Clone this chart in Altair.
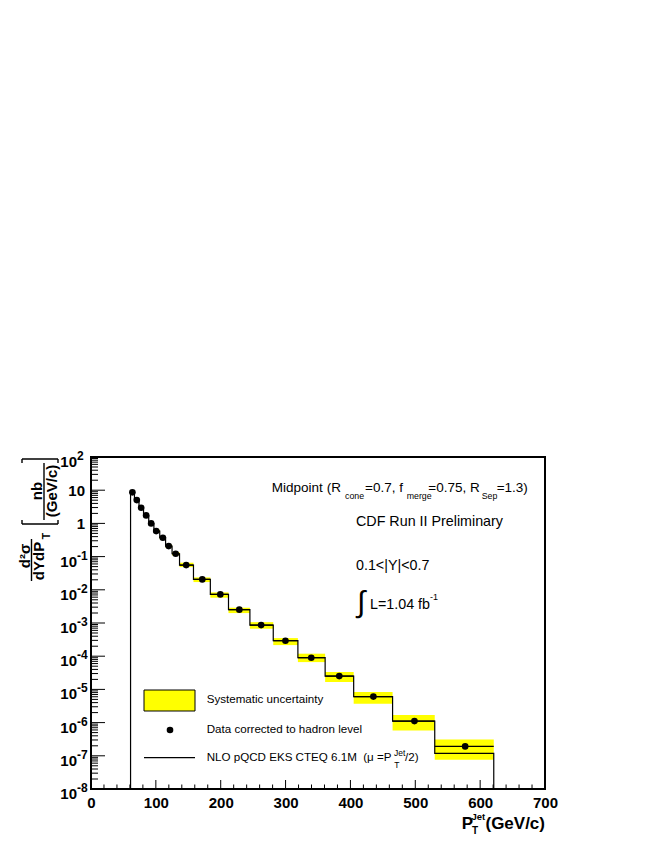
import altair as alt
import pandas as pd

# ---------------- data ----------------
bin_edges = [61, 67, 74, 81, 89, 97, 106, 115, 125, 136.5, 158, 184, 212, 245,
             281, 319, 361, 405, 465, 530, 621]
pt_x = [63.8, 70.6, 77.3, 85.0, 92.7, 100.5, 110.8, 119.8, 130.6, 146.8, 171.6,
        199.4, 228.7, 262.3, 299.8, 339.6, 382.8, 435.4, 498.7, 576.9]
data_xs = [8.6, 5.03, 2.97, 1.74, 1.0, 0.586, 0.371, 0.207, 0.122, 0.0555, 0.0206,
           0.00727, 0.00252, 8.65e-4, 2.93e-4, 9.0e-5, 2.52e-5, 6.07e-6, 1.11e-6, 1.92e-7]
theory_xs = [8.6, 5.03, 2.97, 1.74, 1.0, 0.586, 0.371, 0.207, 0.122, 0.0555, 0.0206,
             0.00727, 0.00252, 8.65e-4, 2.93e-4, 9.0e-5, 2.52e-5, 6.07e-6, 1.11e-6, 1.18e-7]
syst_lo = [7.8, 4.55, 2.68, 1.57, 0.9, 0.528, 0.334, 0.186, 0.109, 0.0483, 0.0171,
           0.00578, 0.00199, 6.73e-4, 2.16e-4, 6.64e-5, 1.66e-5, 3.71e-6, 5.82e-7, 7.63e-8]
syst_hi = [9.4, 5.5, 3.26, 1.91, 1.1, 0.645, 0.41, 0.229, 0.136, 0.0655, 0.0236,
           0.00835, 0.00289, 1.06e-3, 3.51e-4, 1.19e-4, 3.32e-5, 8.3e-6, 1.68e-6, 3.12e-7]
x_ticks_major = [0, 100, 200, 300, 400, 500, 600, 700]
x_ticks_minor = [v for v in range(0, 701, 20) if v % 100 != 0]
y_decades = [2, 1, 0, -1, -2, -3, -4, -5, -6, -7, -8]

# ---------------- tables ----------------
bins = pd.DataFrame({
    "lo": bin_edges[:-1], "hi": bin_edges[1:], "x": pt_x,
    "data": data_xs, "theory": theory_xs, "slo": syst_lo, "shi": syst_hi,
})
path_x = [bin_edges[0]]
path_y = [1e-8]
for lo, hi, t in zip(bin_edges[:-1], bin_edges[1:], theory_xs):
    path_x += [lo, hi]
    path_y += [t, t]
path_x.append(bin_edges[-1])
path_y.append(1e-8)
path = pd.DataFrame({"x": path_x, "y": path_y, "o": range(len(path_x))})

ylab = pd.DataFrame({"v": [10.0 ** k for k in y_decades], "k": y_decades})
ylab["base"] = ["1" if k == 0 else "10" for k in y_decades]
ylab["exp"] = ["" if k in (0, 1) else str(k) for k in y_decades]
ylab_exp = ylab[ylab["exp"] != ""]
ylab_plain = ylab[ylab["exp"] == ""]

yminor = pd.DataFrame({"v": [m * 10.0 ** k for k in range(-8, 2) for m in range(2, 10)]})
ymajor = pd.DataFrame({"v": [10.0 ** k for k in y_decades]})
xmaj = pd.DataFrame({"v": x_ticks_major})
xmin = pd.DataFrame({"v": x_ticks_minor})

W, H = 454, 332
FONT = "Liberation Sans"
xs = alt.Scale(domain=[0, 700], nice=False, zero=False)
ys = alt.Scale(type="log", domain=[1e-8, 100], nice=False)
dummy = pd.DataFrame({"a": [0]})


def txt(s, x, y, size, weight="normal", align="left", angle=0):
    return alt.Chart(dummy).mark_text(
        text=s, fontSize=size, fontWeight=weight, align=align, baseline="middle",
        angle=angle, font=FONT, color="black"
    ).encode(x=alt.value(x), y=alt.value(y))


def seg(x1, x2, y1, y2, w=1.0):
    return alt.Chart(dummy).mark_rule(color="black", strokeWidth=w).encode(
        x=alt.value(x1), x2=alt.value(x2), y=alt.value(y1), y2=alt.value(y2))


band = alt.Chart(bins).mark_rect(color="#ffff00").encode(
    x=alt.X("lo:Q", scale=xs, axis=alt.Axis(
        values=x_ticks_major, ticks=False, domain=False, grid=False,
        labelFontSize=15, labelFontWeight="bold", labelFont=FONT, labelColor="black",
        labelPadding=6, labelFlush=False, labelOverlap=False, title=None)),
    x2="hi:Q",
    y=alt.Y("slo:Q", scale=ys, axis=None),
    y2="shi:Q",
)
theory = alt.Chart(path).mark_line(color="black", strokeWidth=1.2).encode(
    x=alt.X("x:Q", scale=xs), y=alt.Y("y:Q", scale=ys), order="o:Q")
xerr = alt.Chart(bins).mark_rule(color="black", strokeWidth=1.2).encode(
    x=alt.X("lo:Q", scale=xs), x2="hi:Q", y=alt.Y("data:Q", scale=ys))
pts = alt.Chart(bins).mark_circle(color="black", opacity=1, size=44).encode(
    x=alt.X("x:Q", scale=xs), y=alt.Y("data:Q", scale=ys))

# inward ticks
xt_major = alt.Chart(xmaj).mark_rule(color="black", strokeWidth=1).encode(
    x=alt.X("v:Q", scale=xs), y=alt.value(H), y2=alt.value(H - 9))
xt_minor = alt.Chart(xmin).mark_rule(color="black", strokeWidth=1).encode(
    x=alt.X("v:Q", scale=xs), y=alt.value(H), y2=alt.value(H - 4.5))
yt_major = alt.Chart(ymajor).mark_rule(color="black", strokeWidth=1).encode(
    y=alt.Y("v:Q", scale=ys), x=alt.value(0), x2=alt.value(14))
yt_minor = alt.Chart(yminor).mark_rule(color="black", strokeWidth=1).encode(
    y=alt.Y("v:Q", scale=ys), x=alt.value(0), x2=alt.value(7))

# y tick labels
yl_base = alt.Chart(ylab_exp).mark_text(
    align="right", baseline="middle", fontSize=15, fontWeight="bold", font=FONT,
    color="black", dy=5).encode(y=alt.Y("v:Q", scale=ys), x=alt.value(-14), text="base:N")
yl_exp = alt.Chart(ylab_exp).mark_text(
    align="left", baseline="middle", fontSize=12, fontWeight="bold", font=FONT,
    color="black", dy=-1).encode(y=alt.Y("v:Q", scale=ys), x=alt.value(-14), text="exp:N")
yl_plain = alt.Chart(ylab_plain).mark_text(
    align="right", baseline="middle", fontSize=15, fontWeight="bold", font=FONT,
    color="black", dy=1).encode(y=alt.Y("v:Q", scale=ys), x=alt.value(-6), text="base:N")

# y title (rotated)
ytitle = [
    txt("d²σ", -66, 99, 15, "bold", "center", 270),
    seg(-59.5, -59.5, 82, 124, 1.4),
    txt("dYdP", -52.5, 104, 15, "bold", "center", 270),
    txt("T", -44, 79, 10.5, "bold", "center", 270),
    txt("nb", -54.5, 34, 15, "bold", "center", 270),
    seg(-47, -47, 6, 63, 1.4),
    txt("(GeV/c)", -39, 34, 15, "bold", "center", 270),
    seg(-69, -33, 2, 2, 1.4), seg(-69, -69, 2, 6, 1.4), seg(-33, -33, 2, 6, 1.4),
    seg(-69, -33, 67, 67, 1.4), seg(-69, -69, 63, 67, 1.4), seg(-33, -33, 63, 67, 1.4),
]

# x title
xtitle = [
    txt("P", 370.7, 367, 17, "bold"),
    txt("T", 381, 373.5, 10, "bold"),
    txt("Jet", 380.5, 359.5, 9.5, "bold"),
    txt("(GeV/c)", 454, 367, 17, "bold", "right"),
]

# annotations
ann = [
    txt("Midpoint", 180.7, 31, 13.5),
    txt("(R", 235.7, 31, 13.5),
    txt("cone", 254, 39, 8.8),
    txt("=0.7, f", 274, 31, 13.5),
    txt("merge", 315.7, 39, 8.8),
    txt("=0.75, R", 337.3, 31, 13.5),
    txt("Sep", 390.7, 39, 8.8),
    txt("=1.3)", 405.7, 31, 13.5),
    txt("CDF Run II Preliminary", 265, 64.7, 14.3),
    txt("0.1<|Y|<0.7", 265, 108.7, 14.3),
    txt("∫", 266, 146, 30),
    txt("L=1.04 fb", 279, 148, 14.3),
    txt("-1", 339, 139.7, 9),
]

# legend
leg_rect = alt.Chart(dummy).mark_rect(color="#ffff00", stroke="black", strokeWidth=1).encode(
    x=alt.value(53), x2=alt.value(104), y=alt.value(233), y2=alt.value(254))
leg_dot = alt.Chart(dummy).mark_circle(color="black", opacity=1, size=44).encode(
    x=alt.value(79), y=alt.value(273))
legend = [
    leg_rect,
    txt("Systematic uncertainty", 115.7, 243, 11.6),
    leg_dot,
    txt("Data corrected to hadron level", 115.7, 273, 11.6),
    seg(53, 104, 300.7, 300.7, 1.2),
    txt("NLO pQCD EKS CTEQ 6.1M\u00a0\u00a0(μ\u00a0=P", 115.7, 300.7, 11.6),
    txt("Jet", 303, 295.5, 8.5),
    txt("T", 303.3, 308, 8.5),
    txt("/2)", 314, 300.7, 11.6),
]

chart = alt.layer(
    band, theory, xerr, pts,
    xt_major, xt_minor, yt_major, yt_minor,
    yl_base, yl_exp, yl_plain,
    *ytitle, *xtitle, *ann, *legend,
).properties(
    width=W, height=H,
    autosize=alt.AutoSizeParams(type="none"),
    padding={"left": 83, "top": 449, "right": 101, "bottom": 49},
    background="white",
).configure_view(stroke="black", strokeWidth=2)

chart.save("out.html", embed_options={"renderer": "svg", "actions": False})
